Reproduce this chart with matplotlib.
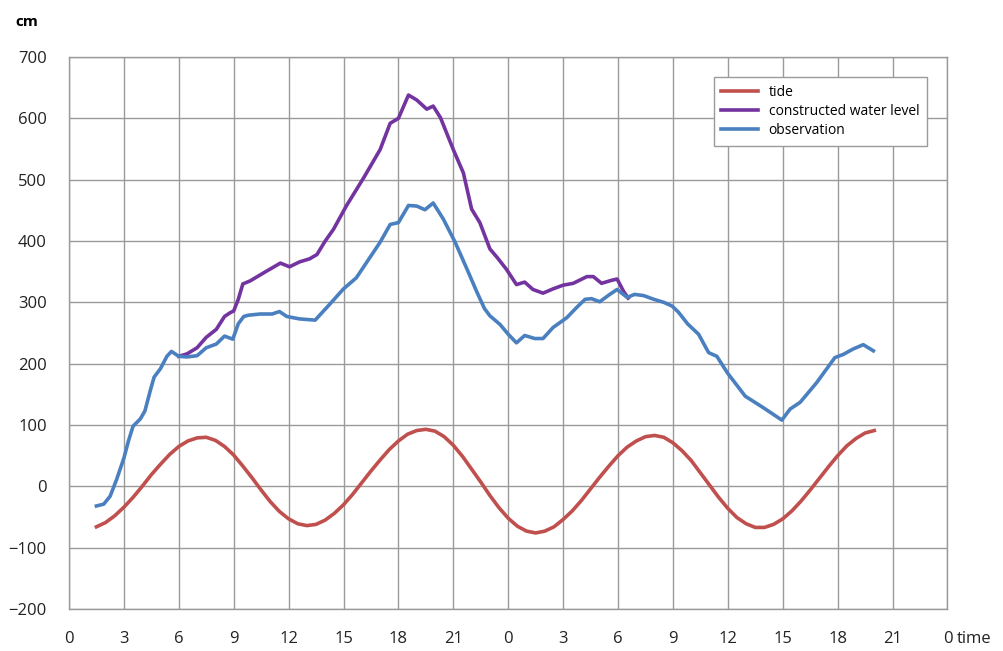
import matplotlib.pyplot as plt

# hours since the first midnight, tide read every half hour
tideTime=[1.5+0.5*i for i in range(86)]
tide=[-66,-59,-48,-34,-18,0,19,36,52,65,74,79,
      80,75,65,51,33,14,-6,-25,-41,-53,-61,-64,
      -62,-55,-44,-30,-13,6,25,43,60,74,85,91,
      93,90,81,67,49,28,7,-15,-35,-52,-65,-73,
      -76,-73,-66,-54,-40,-23,-4,15,33,50,64,74,81,83,
      80,71,58,42,22,2,-18,-36,-51,-61,-67,
      -67,-62,-53,-40,-24,-6,13,32,50,66,78,87,91]

constructedTime=[6.0,6.45,7.0,7.5,8.05,8.5,8.8,9.0,9.25,9.5,9.9,10.35,10.8,11.15,11.55,12.05,12.6,13.15,13.55,14.0,14.45,15.15,16.1,17.0,17.55,18.0,18.55,19.0,19.55,19.9,20.3,21.0,21.55,22.0,22.45,23.0,23.4,23.9,24.45,24.9,25.35,25.9,26.45,27.0,27.55,28.3,28.65,29.1,29.65,29.95,30.3,30.55]
constructed=[212,216,226,243,256,277,283,286,305,330,335,343,351,357,364,358,366,371,378,400,419,457,503,549,592,600,638,630,615,620,601,549,511,452,430,387,373,354,329,333,321,315,322,328,331,342,342,331,336,338,318,307]

observationTime=[1.5,1.9,2.25,2.6,3.0,3.25,3.5,3.9,4.15,4.45,4.65,5.0,5.35,5.6,6.0,6.45,7.0,7.5,8.05,8.5,8.95,9.25,9.55,9.8,10.45,11.1,11.5,11.9,12.6,13.45,14.25,15.0,15.7,17.0,17.55,18.0,18.55,19.0,19.45,19.9,20.45,21.1,21.75,22.3,22.7,23.0,23.55,24.0,24.45,24.9,25.45,25.9,26.45,27.2,27.75,28.2,28.55,29.0,29.55,29.95,30.5,30.9,31.4,31.95,32.5,32.95,33.3,33.8,34.4,34.95,35.4,36.0,36.95,37.95,38.95,39.4,39.95,40.85,41.85,42.3,42.85,43.4,43.95]
observation=[-32,-29,-16,11,46,74,98,110,123,157,178,192,212,220,212,211,213,226,232,245,240,265,277,279,281,281,285,277,273,271,297,322,340,398,427,430,458,457,451,462,436,398,354,316,290,278,264,248,234,246,241,241,259,275,292,305,306,301,313,321,308,313,311,305,300,294,284,265,248,218,212,184,147,128,108,126,137,169,210,215,224,231,221]

xTicks=list(range(0,49,3))
xTickLabels=['0','3','6','9','12','15','18','21','0','3','6','9','12','15','18','21','0']
yTicks=list(range(-200,701,100))

plt.rcParams['font.family']=['Open Sans','DejaVu Sans']

fig=plt.figure(figsize=(10.04,6.51),dpi=100)
ax=fig.add_axes([0.0687,0.0645,0.875,0.8479])

ax.plot(tideTime,tide,color='#c0504d',linewidth=2.6,label='tide',solid_joinstyle='round')
ax.plot(constructedTime,constructed,color='#7434a0',linewidth=2.6,label='constructed water level',solid_joinstyle='round')
ax.plot(observationTime,observation,color='#4a80c0',linewidth=2.6,label='observation',solid_joinstyle='round')

ax.set_xlim(0,48)
ax.set_ylim(-200,700)
ax.set_xticks(xTicks)
ax.set_xticklabels(xTickLabels)
ax.set_yticks(yTicks)
ax.tick_params(axis='both',length=0,labelsize=12,colors='#222222')
ax.tick_params(axis='x',pad=16)
ax.tick_params(axis='y',pad=16)
ax.grid(True,color='#9a9a9a',linewidth=1.0)
ax.set_axisbelow(True)
for spine in ax.spines.values():
    spine.set_color('#9a9a9a')
    spine.set_linewidth(1.0)

fig.text(0.015,0.966,'cm',fontsize=11,fontweight='bold',va='center',ha='left')
# axis name sits right after the last tick label
ax.annotate('time',xy=(48,0),xycoords=('data','axes fraction'),xytext=(7,-16),textcoords='offset points',
            fontsize=12,va='top',ha='left',color='#222222')

leg=ax.legend(loc='upper right',bbox_to_anchor=(0.9766,0.9638),borderaxespad=0,fontsize=10,
              handlelength=2.6,labelspacing=0.3,fancybox=False,framealpha=1,borderpad=0.55)
leg.get_frame().set_edgecolor('#9a9a9a')
leg.get_frame().set_linewidth(1.0)

fig.savefig('out.png',dpi=100)
